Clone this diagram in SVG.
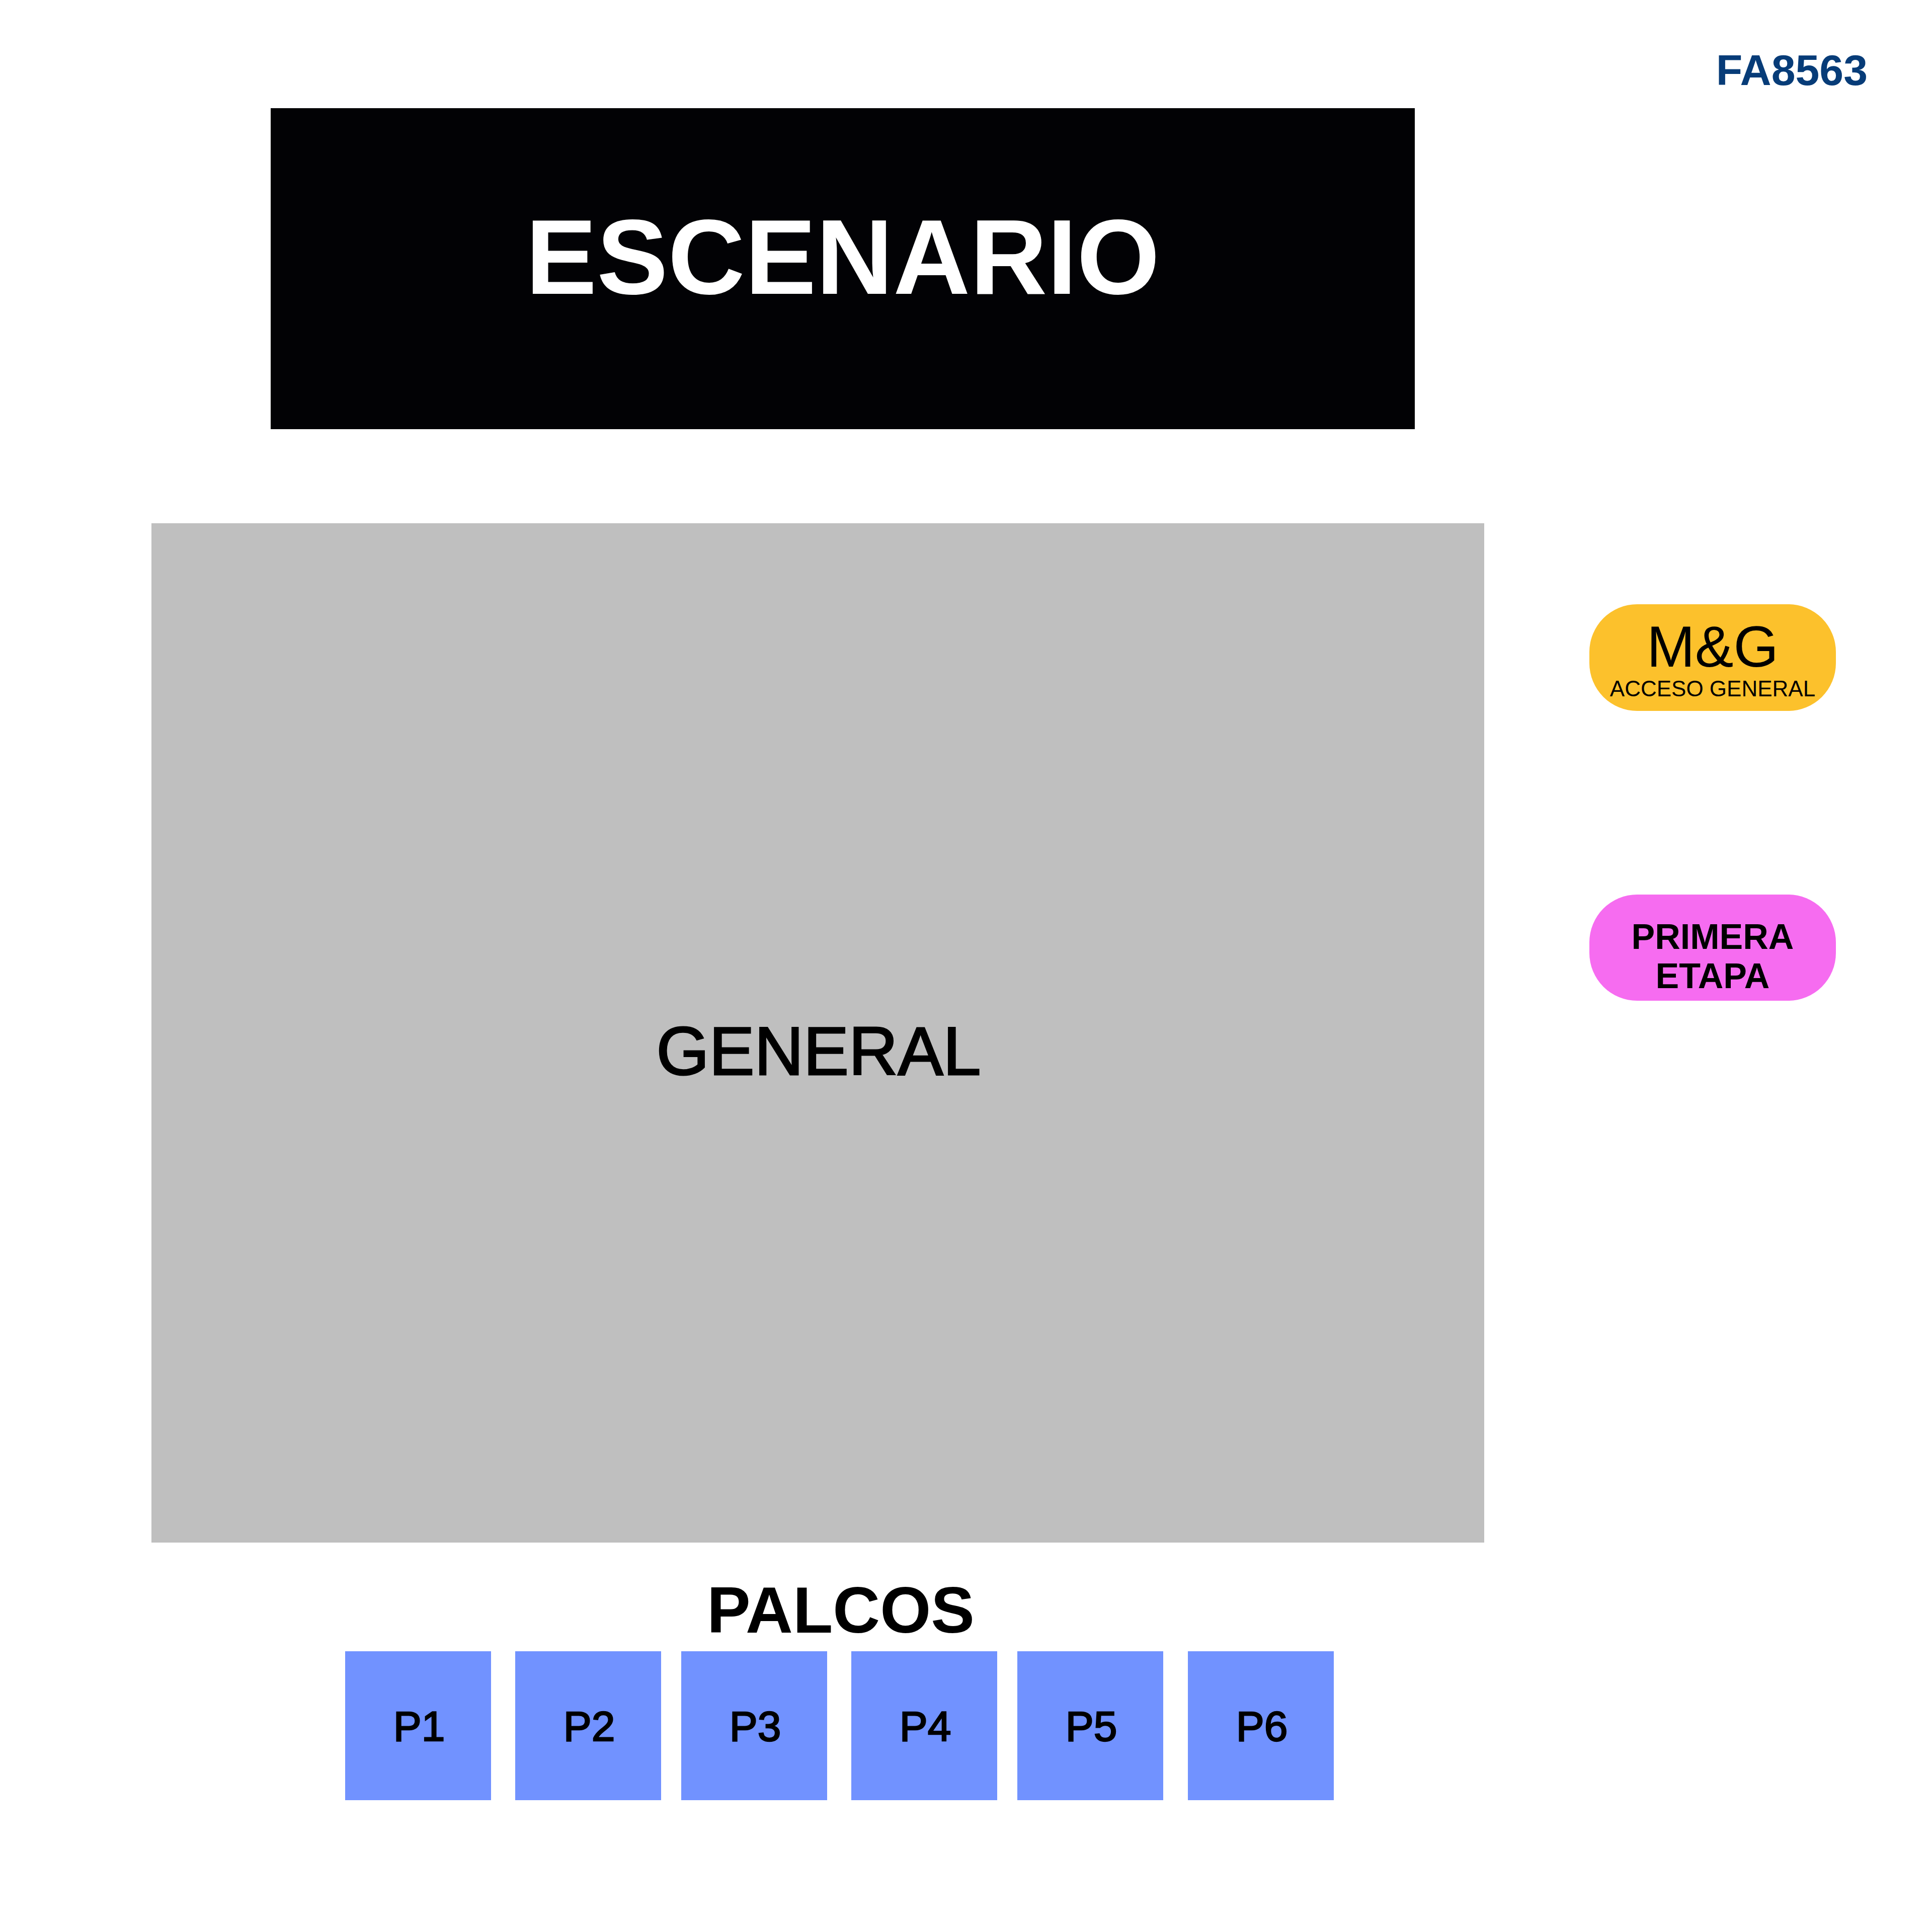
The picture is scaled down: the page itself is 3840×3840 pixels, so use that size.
<svg xmlns="http://www.w3.org/2000/svg" width="3840" height="3840" viewBox="0 0 3840 3840">
<style>
text { font-family: "Liberation Sans", Arial, sans-serif; text-anchor: middle; }
.b { font-weight: bold; }
.palco rect { fill: #7192ff; }
.palco text { font-size: 84px; fill: #000; stroke: #000; stroke-width: 2.5px; }
</style>
<rect x="0" y="0" width="3840" height="3840" fill="#ffffff"/>
<g id="code">
<text x="3712" y="169" class="b" style="text-anchor:end;font-size:86px;fill:#073c78">FA8563</text>
</g>
<g id="escenario">
<rect x="538" y="215" width="2274" height="638" fill="#020205"/>
<text x="1675" y="584" class="b" style="font-size:212px;fill:#ffffff">ESCENARIO</text>
</g>
<g id="general">
<rect x="301" y="1040" width="2649" height="2026" fill="#bfbfbf"/>
<text x="1627" y="2136" style="font-size:135px;fill:#000;stroke:#000;stroke-width:3px">GENERAL</text>
</g>
<g id="mg">
<rect x="3159" y="1201" width="490" height="212" rx="95" ry="95" fill="#fcc12c"/>
<text x="3404" y="1325" style="font-size:115px;fill:#000">M&amp;G</text>
<text x="3404" y="1384" style="font-size:44px;fill:#000">ACCESO GENERAL</text>
</g>
<g id="primera-etapa">
<rect x="3159" y="1778" width="490" height="211" rx="95" ry="95" fill="#f66cf0"/>
<text x="3404" y="1886" class="b" style="font-size:70px;fill:#000">PRIMERA</text>
<text x="3404" y="1964" class="b" style="font-size:70px;fill:#000">ETAPA</text>
</g>
<g id="palcos-label">
<text x="1671" y="3245" class="b" style="font-size:130px;fill:#000">PALCOS</text>
</g>
<g id="p1" class="palco"><rect x="686" y="3282" width="290" height="296"/><text x="833" y="3460">P1</text></g>
<g id="p2" class="palco"><rect x="1024" y="3282" width="290" height="296"/><text x="1171" y="3460">P2</text></g>
<g id="p3" class="palco"><rect x="1354" y="3282" width="290" height="296"/><text x="1501" y="3460">P3</text></g>
<g id="p4" class="palco"><rect x="1692" y="3282" width="290" height="296"/><text x="1839" y="3460">P4</text></g>
<g id="p5" class="palco"><rect x="2022" y="3282" width="290" height="296"/><text x="2169" y="3460">P5</text></g>
<g id="p6" class="palco"><rect x="2361" y="3282" width="290" height="296"/><text x="2508" y="3460">P6</text></g>
<g id="connectors"></g>
</svg>
